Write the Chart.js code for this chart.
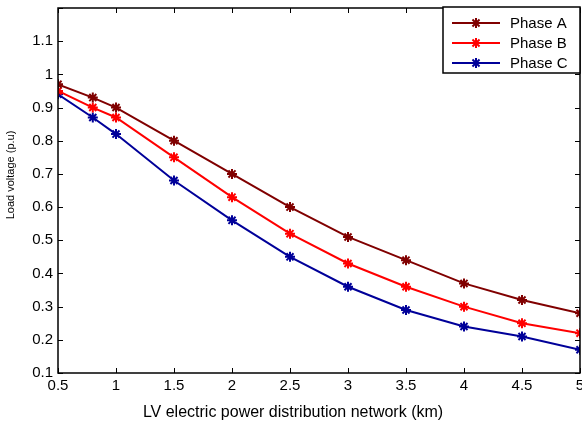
<!DOCTYPE html>
<html>
<head>
<meta charset="utf-8">
<script src="https://cdn.jsdelivr.net/npm/chart.js@4.4.0/dist/chart.umd.min.js"></script>
<style>
    html, body { margin: 0; padding: 0; background: #fff; }
    #wrap { width: 582px; height: 426px; }
</style>
</head>
<body>
<div id="wrap"><canvas id="voltChart" width="582" height="426"></canvas></div>
<script>
// distance along the feeder (km)
const distances = [0.5, 0.8, 1, 1.5, 2, 2.5, 3, 3.5, 4, 4.5, 5];
// load voltage (p.u) per phase
const phaseA = [0.97, 0.93, 0.90, 0.80, 0.70, 0.60, 0.51, 0.44, 0.37, 0.32, 0.28];
const phaseB = [0.95, 0.90, 0.87, 0.75, 0.63, 0.52, 0.43, 0.36, 0.30, 0.25, 0.22];
const phaseC = [0.94, 0.87, 0.82, 0.68, 0.56, 0.45, 0.36, 0.29, 0.24, 0.21, 0.17];
const seriesNames = ['Phase A', 'Phase B', 'Phase C'];
const seriesColors = ['#800000', '#ff0000', '#000099'];
const xTitle = 'LV electric power distribution network (km)';
const yTitle = 'Load voltage (p.u)';

const FONT = '"Liberation Sans", Arial, sans-serif';

function toPoints(values) {
    return distances.map((d, i) => ({ x: d, y: values[i] }));
}

function fmt(v) {
    return String(Math.round(v * 10) / 10);
}

const datasets = [phaseA, phaseB, phaseC].map((vals, i) => ({
    label: seriesNames[i],
    data: toPoints(vals),
    borderColor: seriesColors[i],
    backgroundColor: seriesColors[i],
    borderWidth: 2,
    pointStyle: 'star',
    pointRadius: 5,
    pointBorderWidth: 2,
    tension: 0
}));

// MATLAB-ish box with inward ticks, axis titles and legend
const boxTicks = {
    id: 'boxTicks',
    afterDraw(chart) {
        const ctx = chart.ctx;
        const a = chart.chartArea;
        const xs = chart.scales.x, ys = chart.scales.y;
        ctx.save();
        ctx.strokeStyle = '#000';
        ctx.lineWidth = 1;
        ctx.beginPath();
        xs.ticks.forEach(t => {
            const px = Math.round(xs.getPixelForValue(t.value)) + 0.5;
            ctx.moveTo(px, a.bottom); ctx.lineTo(px, a.bottom - 5);
            ctx.moveTo(px, a.top); ctx.lineTo(px, a.top + 5);
        });
        ys.ticks.forEach(t => {
            const py = Math.round(ys.getPixelForValue(t.value)) + 0.5;
            ctx.moveTo(a.left, py); ctx.lineTo(a.left + 5, py);
            ctx.moveTo(a.right, py); ctx.lineTo(a.right - 5, py);
        });
        ctx.stroke();
        ctx.lineWidth = 1.5;
        ctx.strokeRect(a.left, a.top, a.right - a.left, a.bottom - a.top);

        // axis titles
        ctx.fillStyle = '#000';
        ctx.textAlign = 'center';
        ctx.textBaseline = 'middle';
        ctx.font = '16px ' + FONT;
        ctx.fillText(xTitle, 293, 413);
        ctx.save();
        ctx.translate(11, 175);
        ctx.rotate(-Math.PI / 2);
        ctx.font = '11px ' + FONT;
        ctx.fillText(yTitle, 0, 0);
        ctx.restore();

        // legend box top right
        const lw = 137, lh = 66;
        const lx = a.right - lw, ly = a.top - 1;
        ctx.fillStyle = '#fff';
        ctx.fillRect(lx, ly, lw, lh);
        ctx.lineWidth = 1.5;
        ctx.strokeRect(lx, ly, lw, lh);
        ctx.font = '15px ' + FONT;
        ctx.textAlign = 'left';
        chart.data.datasets.forEach((ds, i) => {
            const yy = ly + 16 + i * 20;
            ctx.strokeStyle = ds.borderColor;
            ctx.fillStyle = ds.borderColor;
            ctx.lineWidth = 2;
            ctx.beginPath();
            ctx.moveTo(lx + 9, yy); ctx.lineTo(lx + 57, yy);
            ctx.stroke();
            Chart.helpers.drawPoint(ctx, {
                pointStyle: 'star', radius: 5, borderWidth: 2, rotation: 0
            }, lx + 33, yy);
            ctx.fillStyle = '#000';
            ctx.fillText(ds.label, lx + 67, yy + 1);
        });
        ctx.restore();
    }
};

const ctx = document.getElementById('voltChart').getContext('2d');
new Chart(ctx, {
    type: 'line',
    data: { datasets: datasets },
    options: {
        responsive: false,
        animation: false,
        layout: { autoPadding: false, padding: { left: 0, right: 2, top: 8, bottom: 0 } },
        plugins: {
            legend: { display: false },
            tooltip: { enabled: false }
        },
        scales: {
            x: {
                type: 'linear',
                min: 0.5,
                max: 5,
                border: { display: false },
                grid: { display: false, drawTicks: false },
                ticks: {
                    stepSize: 0.5,
                    color: '#000',
                    padding: 4,
                    maxRotation: 0,
                    font: { family: FONT, size: 15 },
                    callback: v => fmt(v)
                },
                afterFit(scale) {
                    scale.height = 53;
                    scale.paddingLeft = 0;
                    scale.paddingRight = 0;
                }
            },
            y: {
                type: 'linear',
                min: 0.1,
                max: 1.2,
                border: { display: false },
                grid: { display: false, drawTicks: false },
                ticks: {
                    stepSize: 0.1,
                    color: '#000',
                    padding: 5,
                    font: { family: FONT, size: 15 },
                    callback: v => (v > 1.15 ? '' : fmt(v))
                },
                afterFit(scale) {
                    scale.width = 58;
                    scale.paddingTop = 0;
                    scale.paddingBottom = 0;
                }
            }
        }
    },
    plugins: [boxTicks]
});
</script>
</body>
</html>
